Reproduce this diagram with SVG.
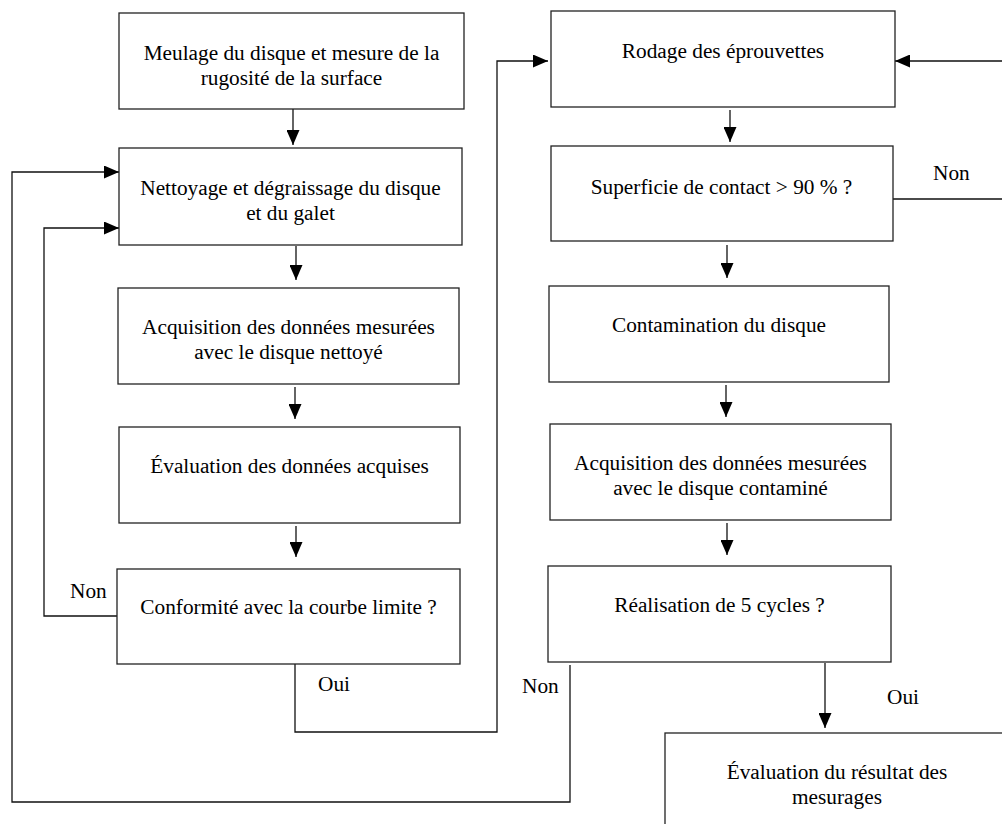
<svg xmlns="http://www.w3.org/2000/svg" width="1002" height="824" viewBox="0 0 1002 824">
<defs>
<style>
.box{fill:#fff;stroke:#222;stroke-width:1.3}
.t{font-family:"Liberation Serif","Times New Roman",serif;font-size:21.3px;fill:#000;text-anchor:middle}
.lbl{font-family:"Liberation Serif","Times New Roman",serif;font-size:21.3px;fill:#000}
.c{fill:none;stroke:#111;stroke-width:1.3}
</style>
<marker id="ah" viewBox="0 0 15 13" refX="15" refY="6.5" markerWidth="15" markerHeight="13" markerUnits="userSpaceOnUse" orient="auto">
<path d="M0,0 L15,6.5 L0,13 z" fill="#000"/>
</marker>
</defs>
<rect width="1002" height="824" fill="#fff"/>

<g id="connectors">
<path class="c" d="M293,109 V145" marker-end="url(#ah)"/>
<path class="c" d="M296,246 V280" marker-end="url(#ah)"/>
<path class="c" d="M295,387 V419" marker-end="url(#ah)"/>
<path class="c" d="M296,526 V557" marker-end="url(#ah)"/>
<path class="c" d="M730,110 V142" marker-end="url(#ah)"/>
<path class="c" d="M727,245 V278" marker-end="url(#ah)"/>
<path class="c" d="M726,385 V417" marker-end="url(#ah)"/>
<path class="c" d="M727,523 V555" marker-end="url(#ah)"/>
<path class="c" d="M825,663 V728" marker-end="url(#ah)"/>
<path class="c" d="M120,616 H44 V228 H119" marker-end="url(#ah)"/>
<path class="c" d="M570,665 V802 H12 V172 H119" marker-end="url(#ah)"/>
<path class="c" d="M295,664 V732 H497 V61 H548" marker-end="url(#ah)"/>
<path class="c" d="M893,199 H1010 V61 H895" marker-end="url(#ah)"/>
<text class="lbl" x="70" y="598">Non</text>
<text class="lbl" x="318" y="691">Oui</text>
<text class="lbl" x="522" y="693">Non</text>
<text class="lbl" x="887" y="704">Oui</text>
<text class="lbl" x="933" y="180">Non</text>
</g>

<g id="n1"><rect class="box" x="119" y="13" width="345" height="96"/>
<text class="t" x="291.5" y="60">Meulage du disque et mesure de la</text>
<text class="t" x="291.5" y="85">rugosité de la surface</text></g>

<g id="n2"><rect class="box" x="119" y="148" width="343" height="97"/>
<text class="t" x="290.5" y="195">Nettoyage et dégraissage du disque</text>
<text class="t" x="290.5" y="220">et du galet</text></g>

<g id="n3"><rect class="box" x="118" y="288" width="341" height="96"/>
<text class="t" x="288.5" y="334">Acquisition des données mesurées</text>
<text class="t" x="288.5" y="359">avec le disque nettoyé</text></g>

<g id="n4"><rect class="box" x="119" y="427" width="341" height="96"/>
<text class="t" x="289.5" y="473">Évaluation des données acquises</text></g>

<g id="n5"><rect class="box" x="117" y="569" width="343" height="95"/>
<text class="t" x="288.5" y="614">Conformité avec la courbe limite ?</text></g>

<g id="n6"><rect class="box" x="551" y="11" width="344" height="96"/>
<text class="t" x="723" y="58">Rodage des éprouvettes</text></g>

<g id="n7"><rect class="box" x="551" y="146" width="342" height="95"/>
<text class="t" x="721.5" y="194">Superficie de contact &gt; 90 % ?</text></g>

<g id="n8"><rect class="box" x="549" y="286" width="340" height="96"/>
<text class="t" x="719" y="332">Contamination du disque</text></g>

<g id="n9"><rect class="box" x="550" y="424" width="341" height="96"/>
<text class="t" x="720.5" y="470">Acquisition des données mesurées</text>
<text class="t" x="720.5" y="495">avec le disque contaminé</text></g>

<g id="n10"><rect class="box" x="548" y="566" width="343" height="96"/>
<text class="t" x="719.5" y="612">Réalisation de 5 cycles ?</text></g>

<g id="n11"><rect class="box" x="665" y="733" width="344" height="96"/>
<text class="t" x="837" y="779">Évaluation du résultat des</text>
<text class="t" x="837" y="804">mesurages</text></g>
</svg>
